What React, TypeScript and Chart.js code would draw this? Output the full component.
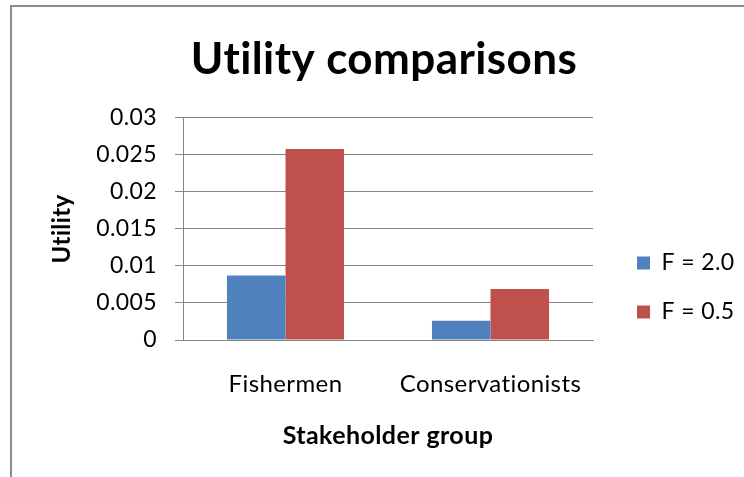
import { useEffect, useRef } from 'react';
import { Chart, registerables } from 'chart.js';

Chart.register(...registerables);

// ---- data -------------------------------------------------------------
const CATEGORIES = ['Fishermen', 'Conservationists'];
const SERIES_NAMES = ['F = 2.0', 'F = 0.5'];
const UTILITY_F20 = [0.0087, 0.0026];
const UTILITY_F05 = [0.0258, 0.0069];
const Y_MIN = 0;
const Y_MAX = 0.03;
const Y_STEP = 0.005;
const Y_TICK_LABELS = ['0', '0.005', '0.01', '0.015', '0.02', '0.025', '0.03'];
const CHART_TITLE = 'Utility comparisons';
const X_TITLE = 'Stakeholder group';
const Y_TITLE = 'Utility';

// ---- styling ----------------------------------------------------------
const FONT = 'Lato, "Noto Sans", sans-serif';
const AXIS_GRAY = '#868686';
const FRAME_GRAY = '#8c8c8c';
const BLUE = '#4F81BD';
const RED = '#C0504D';
const TEXT = '#000000';
const LETTER_SPACING = '0.4px';

// Outer chart frame (only its top and left edges fall inside the canvas).
const framePlugin = {
  id: 'frame',
  beforeLayout(chart: any) {
    chart.ctx.letterSpacing = LETTER_SPACING;
  },
  beforeDraw(chart: any) {
    const { ctx } = chart;
    ctx.letterSpacing = LETTER_SPACING;
    ctx.save();
    ctx.fillStyle = '#ffffff';
    ctx.fillRect(0, 0, chart.width, chart.height);
    ctx.strokeStyle = FRAME_GRAY;
    ctx.lineWidth = 2;
    ctx.strokeRect(11, 6, chart.width + 40, chart.height + 40);
    ctx.restore();
  },
};

// Fixed-size legend column on the right, items placed beside the plot.
const LEGEND_WIDTH = 151;
const legendPlacement = {
  id: 'legendPlacement',
  beforeLayout(chart: any) {
    const lg = chart.legend;
    if (lg && !lg.__fixedWidth) {
      const fit = lg.fit.bind(lg);
      lg.fit = function () {
        fit();
        this.width = LEGEND_WIDTH;
      };
      lg.__fixedWidth = true;
    }
  },
  afterLayout(chart: any) {
    const lg = chart.legend;
    if (!lg) return;
    lg.left = 611;
    lg.right = chart.width;
    lg.top = 118;
    lg.bottom = 457;
  },
};

export default function App() {
  const canvasRef = useRef<HTMLCanvasElement>(null);

  useEffect(() => {
    document.body.style.margin = '0';
    const canvas = canvasRef.current;
    if (!canvas) return;

    const chart = new Chart(canvas, {
      type: 'bar',
      data: {
        labels: CATEGORIES,
        datasets: [
          { label: SERIES_NAMES[0], data: UTILITY_F20, backgroundColor: BLUE, borderWidth: 0 },
          { label: SERIES_NAMES[1], data: UTILITY_F05, backgroundColor: RED, borderWidth: 0 },
        ],
      },
      options: {
        animation: false,
        responsive: false,
        events: [],
        layout: { padding: { left: 24, top: 0, right: 0, bottom: 0 } },
        datasets: { bar: { categoryPercentage: 0.571, barPercentage: 1 } },
        plugins: {
          title: {
            display: true,
            text: CHART_TITLE,
            color: TEXT,
            font: { family: FONT, size: 44, weight: 'bold', lineHeight: 1.2 },
            padding: { top: 33, bottom: 32 },
          },
          legend: {
            position: 'right',
            labels: {
              boxWidth: 13,
              boxHeight: 13,
              padding: 26,
              color: TEXT,
              font: { family: FONT, size: 23 },
            },
          },
          tooltip: { enabled: false },
        },
        scales: {
          x: {
            grid: { display: false, drawTicks: false },
            border: { display: true, color: AXIS_GRAY, width: 1 },
            ticks: { color: TEXT, padding: 30, font: { family: FONT, size: 24 } },
            title: {
              display: true,
              text: X_TITLE,
              color: TEXT,
              font: { family: FONT, size: 25, weight: 'bold', lineHeight: 1.2 },
              padding: { top: 0, bottom: 26 },
            },
            afterFit: (scale: any) => {
              scale.height = 137;
            },
          },
          y: {
            min: Y_MIN,
            max: Y_MAX,
            ticks: {
              stepSize: Y_STEP,
              padding: 18,
              color: TEXT,
              font: { family: FONT, size: 23 },
              callback: (value: any) => Y_TICK_LABELS[Math.round(Number(value) / Y_STEP)] ?? '',
            },
            grid: { color: AXIS_GRAY, tickLength: 8, drawTicks: true, lineWidth: 1 },
            border: { display: true, color: AXIS_GRAY, width: 1 },
            title: {
              display: true,
              text: Y_TITLE,
              color: TEXT,
              font: { family: FONT, size: 24, weight: 'bold', lineHeight: 1.2 },
              padding: { top: 24, bottom: 0 },
            },
            afterFit: (scale: any) => {
              scale.width = 159;
            },
          },
        },
      } as any,
      plugins: [framePlugin, legendPlacement],
    });

    return () => chart.destroy();
  }, []);

  return (
    <div style={{ width: 744, height: 477 }}>
      <canvas ref={canvasRef} width={744} height={477} style={{ display: 'block' }} />
    </div>
  );
}
